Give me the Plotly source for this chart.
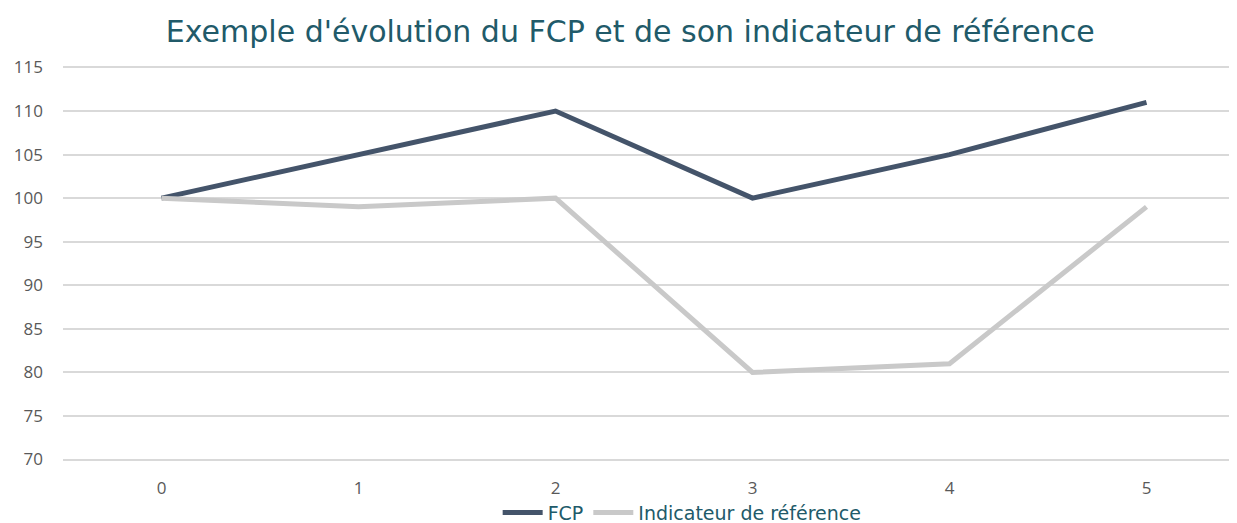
import plotly.graph_objects as go

categories = ["0", "1", "2", "3", "4", "5"]
fcp = [100, 105, 110, 100, 105, 111]
indicateur = [100, 99, 100, 80, 81, 99]
y_ticks = [70, 75, 80, 85, 90, 95, 100, 105, 110, 115]

fig = go.Figure()
fig.add_trace(go.Scatter(x=categories, y=fcp, mode="lines", name="FCP",
                         line=dict(color="#44546A", width=5)))
fig.add_trace(go.Scatter(x=categories, y=indicateur, mode="lines", name="Indicateur de référence",
                         line=dict(color="#C9C9C9", width=5)))

fig.update_layout(
    width=1237, height=523,
    paper_bgcolor="white", plot_bgcolor="white",
    margin=dict(l=55, r=0, t=56, b=68),
    title=dict(text="Exemple d'évolution du FCP et de son indicateur de référence",
               x=0.503, xanchor="center", y=0.956, yanchor="middle",
               font=dict(family="DejaVu Sans", size=30, color="#215A69")),
    legend=dict(orientation="h", x=0.545, xanchor="center", xref="container",
                y=0.035, yanchor="middle", yref="container",
                font=dict(family="DejaVu Sans", size=19, color="#215A69"),
                bgcolor="rgba(0,0,0,0)", itemwidth=40),
    showlegend=True,
)
fig.update_xaxes(type="category", range=[-0.5, 5.5], showgrid=False, zeroline=False,
                 showline=False, ticks="", ticklabelstandoff=13, automargin=False,
                 tickfont=dict(family="Open Sans, Liberation Sans", size=17, color="#595959"))
fig.update_yaxes(range=[69.6, 115.4], tickvals=y_ticks, showgrid=True, gridcolor="#D9D9D9",
                 gridwidth=1.5, zeroline=False, showline=False, ticks="", ticklabelstandoff=19,
                 automargin=False,
                 tickfont=dict(family="Open Sans, Liberation Sans", size=17, color="#595959"))

fig.write_html("out.html")
